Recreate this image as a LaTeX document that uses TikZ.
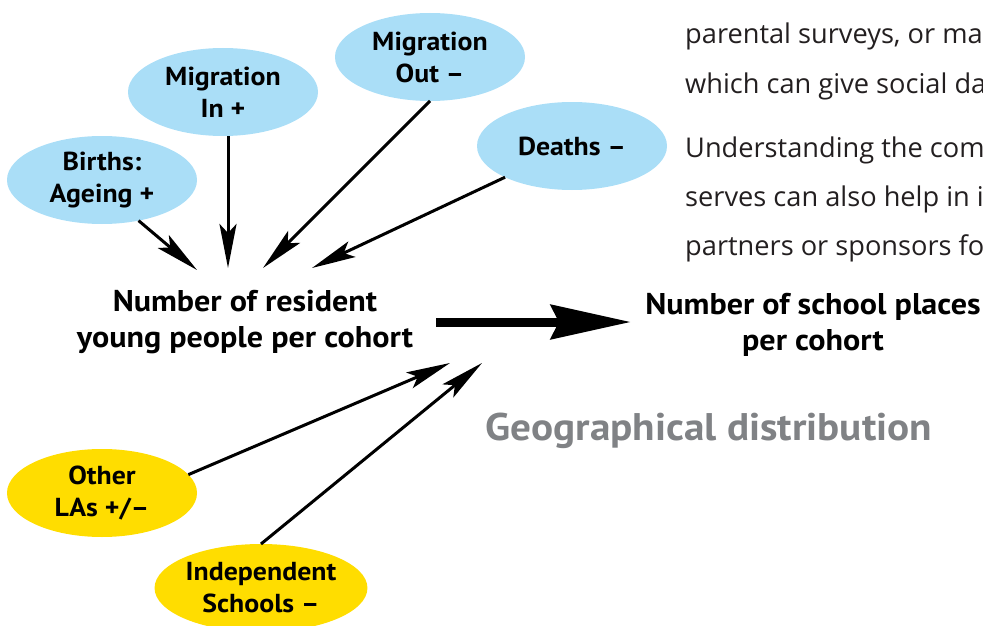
\documentclass[tikz,border=0pt]{standalone}
\usepackage{fontspec}
\setmainfont{PT Sans}[FakeStretch=1.07]
\newfontfamily\bodyfont{Open Sans}
\usetikzlibrary{shapes.geometric,arrows.meta}
\definecolor{skyblue}{RGB}{170,222,247}
\definecolor{sunyellow}{RGB}{255,221,0}
\definecolor{geogray}{RGB}{128,130,133}
\definecolor{bodyink}{RGB}{35,31,32}
\begin{document}
\begin{tikzpicture}[x=1pt,y=-1pt,
  blob/.style={ellipse, minimum width=190pt, minimum height=88pt, inner sep=0pt, outer sep=0pt, align=center, font=\fontsize{26}{32}\selectfont\bfseries},
  bluebl/.style={blob, fill=skyblue},
  yellowbl/.style={blob, fill=sunyellow},
  bigtext/.style={align=center, inner sep=0pt, font=\fontsize{30}{36}\selectfont\bfseries},
  feed/.style={line width=3pt, -{Stealth[length=44pt,width=17pt,inset=9pt]}},
  mainarrow/.style={line width=9pt, -{Stealth[length=80pt,width=34pt,inset=8pt]}},
  body/.style={anchor=base west, inner sep=0pt, text=bodyink, font=\fontsize{27.2}{27.2}\bodyfont}
]
\useasboundingbox (0,0) rectangle (983,626);
\clip (0,0) rectangle (983,626);

% right-hand body text (cut by the page edge)
\node[body] (p1) at (685,44) {parental surveys, or market};
\node[body] (p2) at (685,93) {which can give social data};
\node[body] (p3) at (685,157) {Understanding the community};
\node[body] (p4) at (685,206) {serves can also help in identifying};
\node[body] (p5) at (685,255) {partners or sponsors for};

% ellipses
\node[bluebl] (births) at (102,180) {Births:\\Ageing +};
\node[bluebl] (min) at (223,92) {Migration\\In +};
\node[bluebl] (mout) at (430,57) {Migration\\Out –};
\node[bluebl] (deaths) at (572,146) {Deaths –};
\node[yellowbl] (others) at (102,493) {Other\\LAs +/–};
\node[yellowbl] (indep) at (261,588) {Independent\\Schools –};

% main texts
\node[bigtext] (res) at (245,322) {Number of resident\\young people per cohort};
\node[bigtext] (places) at (813,325) {Number of school places\\per cohort};
\node[anchor=base, inner sep=0pt, text=geogray, font=\fontsize{38.5}{38.5}\selectfont\bfseries] (geo) at (709,440) {Geographical distribution};

% arrow tips
\coordinate (tb) at (197,270);
\coordinate (tmi) at (228,268);
\coordinate (tmo) at (263,268);
\coordinate (td) at (312,268);
\coordinate (tol) at (450,363);
\coordinate (tis) at (482,363);

\draw[feed] (births.312) -- (tb);
\draw[feed] (min.south -| tmi) -- (tmi);
\draw[feed] (mout.south) -- (tmo);
\draw[feed] (deaths.205) -- (td);
\draw[feed] (others.12) -- (tol);
\draw[feed] (indep.north) -- (tis);

% main arrow
\coordinate (ma) at (436,322);
\coordinate (mb) at (631,322);
\draw[mainarrow] (ma) -- (mb);
\end{tikzpicture}
\end{document}
